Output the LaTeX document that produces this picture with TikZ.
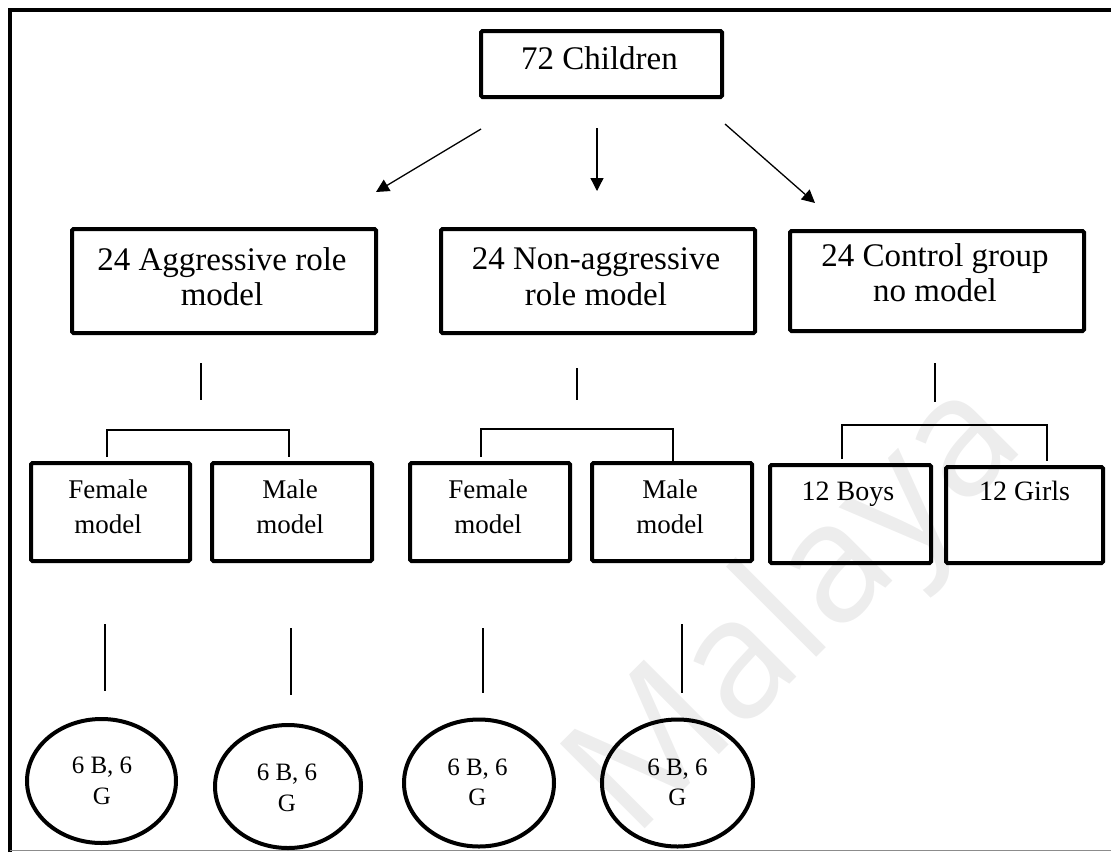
\documentclass[tikz,border=0pt]{standalone}
\usepackage{fontspec}
\setmainfont{Liberation Serif}
\newfontfamily\wmfont{Open Sans}
\usetikzlibrary{arrows.meta,shapes.geometric}

\tikzset{
  box/.style={draw, line width=4pt, rectangle, rounded corners=1.5pt, inner sep=0pt, anchor=north west},
  oval/.style={draw, ellipse, line width=4pt, inner sep=0pt},
  big/.style={font=\fontsize{33}{35}\selectfont, inner sep=0pt, anchor=base},
  mid/.style={font=\fontsize{27}{35}\selectfont, inner sep=0pt, anchor=base},
  cnt/.style={font=\fontsize{28}{35}\selectfont, inner sep=0pt, anchor=base},
  small/.style={font=\fontsize{25}{31}\selectfont, inner sep=0pt, anchor=base},
  link/.style={line width=1.3pt},
  arr/.style={link, -{Triangle[length=13pt,width=13pt]}},
  frame/.style={line width=4.5pt}
}

\begin{document}
\begin{tikzpicture}[x=1pt,y=-1pt]
\useasboundingbox (0,0) rectangle (1111,852);

% watermark
\node[text=black!7, font=\wmfont\fontsize{168}{168}\selectfont, rotate=45, inner sep=0pt] (wm) at (800,612) {Malaya};

% page frame
\draw[frame] (10,852) -- (10,10) -- (1111,10);
\draw[black!45, line width=1.2pt] (10,850.5) -- (1111,850.5);

% top level
\node[box, minimum width=241pt, minimum height=66pt] (top) at (479,29) {};
\node[big] (toptxt) at (599.5,69) {72 Children};

% three groups
\node[box, minimum width=304pt, minimum height=104pt] (agg) at (70,227) {};
\node[big] (aggA) at (222,270) {24 Aggressive role};
\node[big] (aggB) at (222,305) {model};

\node[box, minimum width=314pt, minimum height=104pt] (non) at (439,227) {};
\node[big] (nonA) at (596,269) {24 Non-aggressive};
\node[big] (nonB) at (596,305) {role model};

\node[box, minimum width=294pt, minimum height=100pt] (ctl) at (788,229) {};
\node[big] (ctlA) at (935,266) {24 Control group};
\node[big] (ctlB) at (935,301) {no model};

% arrows from the top box
\coordinate (a1s) at (481,129); \coordinate (a1e) at (376,192);
\coordinate (a2s) at (597,128); \coordinate (a2e) at (597,191);
\coordinate (a3s) at (725,124); \coordinate (a3e) at (815,203);
\draw[arr] (a1s) -- (a1e);
\draw[arr] (a2s) -- (a2e);
\draw[arr] (a3s) -- (a3e);

% short stems below the group boxes
\coordinate (s1a) at (201,363); \coordinate (s1b) at (201,400);
\coordinate (s2a) at (577,368); \coordinate (s2b) at (577,400);
\coordinate (s3a) at (935,363); \coordinate (s3b) at (935,402);
\draw[link] (s1a) -- (s1b);
\draw[link] (s2a) -- (s2b);
\draw[link] (s3a) -- (s3b);

% second level boxes
\node[box, minimum width=159pt, minimum height=98pt] (f1) at (29,461) {};
\node[mid] (f1a) at (108,498) {Female};
\node[mid] (f1b) at (108,533) {model};
\node[box, minimum width=160pt, minimum height=98pt] (m1) at (210,461) {};
\node[mid] (m1a) at (290,498) {Male};
\node[mid] (m1b) at (290,533) {model};

\node[box, minimum width=160pt, minimum height=98pt] (f2) at (408,461) {};
\node[mid] (f2a) at (488,498) {Female};
\node[mid] (f2b) at (488,533) {model};
\node[box, minimum width=160pt, minimum height=98pt] (m2) at (590,461) {};
\node[mid] (m2a) at (670,498) {Male};
\node[mid] (m2b) at (670,533) {model};

\node[box, minimum width=161pt, minimum height=98pt] (boys) at (768,463) {};
\node[cnt] (boyst) at (848,500) {12 Boys};
\node[box, minimum width=157pt, minimum height=96pt] (girls) at (944,465) {};
\node[cnt] (girlst) at (1024.5,500) {12 Girls};

% brackets
\draw[link] (107,457) -- (107,430) -- (289,430) -- (289,457);
\draw[link] (481,457) -- (481,429) -- (673,429) -- (673,463);
\draw[link] (842,459) -- (842,425) -- (1047,425) -- (1047,461);

% stems to the ovals
\coordinate (b1a) at (105,624); \coordinate (b1b) at (105,691);
\coordinate (b2a) at (291,628); \coordinate (b2b) at (291,695);
\coordinate (b3a) at (483,628); \coordinate (b3b) at (483,693);
\coordinate (b4a) at (682,624); \coordinate (b4b) at (682,693);
\draw[link] (b1a) -- (b1b);
\draw[link] (b2a) -- (b2b);
\draw[link] (b3a) -- (b3b);
\draw[link] (b4a) -- (b4b);

% ovals
\node[oval, minimum width=149pt, minimum height=124pt] (e1) at (101.5,781) {};
\node[small] (e1a) at (102,773) {6 B, 6};
\node[small] (e1b) at (102,804) {G};
\node[oval, minimum width=146pt, minimum height=123pt] (e2) at (288,786.5) {};
\node[small] (e2a) at (287,780) {6 B, 6};
\node[small] (e2b) at (287,811) {G};
\node[oval, minimum width=150pt, minimum height=127pt] (e3) at (479,783) {};
\node[small] (e3a) at (477.5,775) {6 B, 6};
\node[small] (e3b) at (477.5,805) {G};
\node[oval, minimum width=151pt, minimum height=127pt] (e4) at (677.5,783) {};
\node[small] (e4a) at (677.5,775) {6 B, 6};
\node[small] (e4b) at (677.5,805) {G};
\end{tikzpicture}
\end{document}
